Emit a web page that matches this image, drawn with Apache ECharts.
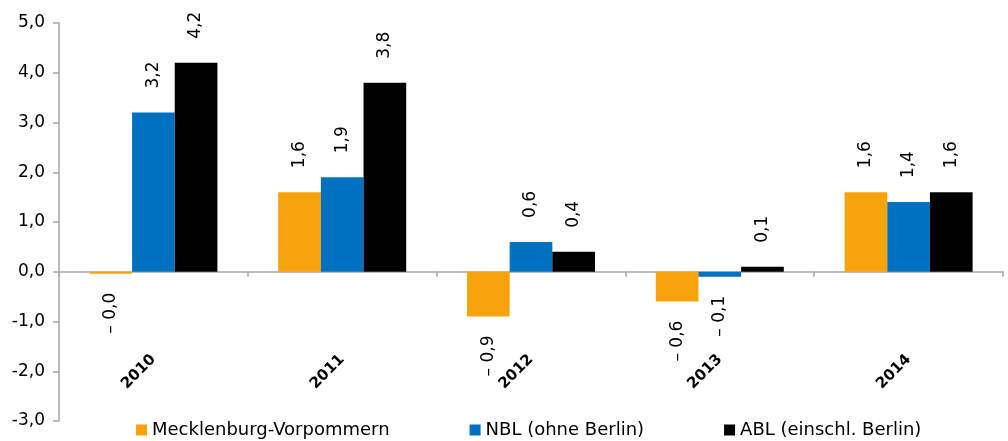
<!DOCTYPE html>
<html>
<head>
<meta charset="utf-8">
<style>html,body{margin:0;padding:0;background:#fff}#c{width:1008px;height:441px}</style>
<script src="https://cdn.jsdelivr.net/npm/echarts@6/dist/echarts.min.js"></script>
</head>
<body>
<div id="c"></div>
<script>
var categories = ['2010', '2011', '2012', '2013', '2014'];
var seriesNames = ['Mecklenburg-Vorpommern', 'NBL (ohne Berlin)', 'ABL (einschl. Berlin)'];
var mvValues = [-0.04, 1.6, -0.9, -0.6, 1.6];
var nblValues = [3.2, 1.9, 0.6, -0.1, 1.4];
var ablValues = [4.2, 3.8, 0.4, 0.1, 1.6];
var colors = ['#F8A30C', '#0070C0', '#000000'];

var FONT = 'DejaVu Sans';
function fmtLabel(p) {
  var v = p.value;
  var s = Math.abs(v).toFixed(1).replace('.', ',');
  return v < 0 ? '\u2013 ' + s : s;
}
var posLabel = {show: true, position: 'top', distance: 24, rotate: 90, align: 'left', verticalAlign: 'middle'};
var negLabel = {show: true, position: 'bottom', distance: 19, rotate: 90, align: 'right', verticalAlign: 'middle'};
function toData(arr) {
  return arr.map(function (v) { return {value: v, label: v < 0 ? negLabel : posLabel}; });
}
function mkSeries(name, arr, color) {
  return {
    name: name, type: 'bar', data: toData(arr), barWidth: '22.6%', barGap: '0%',
    itemStyle: {color: color},
    label: {show: true, formatter: fmtLabel, color: '#000', fontFamily: FONT, fontSize: 17}
  };
}
var chart = echarts.init(document.getElementById('c'), null, {renderer: 'canvas'});
chart.setOption({
  animation: false,
  backgroundColor: '#fff',
  textStyle: {fontFamily: FONT},
  grid: {left: 59, right: 5, top: 23, bottom: 20, containLabel: false, outerBoundsMode: 'none'},
  legend: {
    data: seriesNames, left: 131, top: 416, icon: 'rect', itemWidth: 11, itemHeight: 11, itemGap: 80,
    textStyle: {fontFamily: FONT, fontSize: 18, color: '#000', padding: [0, 0, 0, 0]}
  },
  xAxis: {
    type: 'category', data: categories,
    axisLine: {onZero: true, lineStyle: {color: '#A6A6A6', width: 1.5}},
    axisTick: {show: true, length: 5, lineStyle: {color: '#A6A6A6', width: 1.5}},
    axisLabel: {rotate: 45, margin: -64, fontWeight: 'bold', fontSize: 15, color: '#000', fontFamily: FONT}
  },
  yAxis: {
    type: 'value', min: -3, max: 5, interval: 1,
    axisLine: {show: true, lineStyle: {color: '#A6A6A6', width: 1.5}},
    axisTick: {show: true, length: 6, lineStyle: {color: '#A6A6A6', width: 1.5}},
    splitLine: {show: false},
    axisLabel: {margin: 14, fontSize: 17, color: '#000', fontFamily: FONT,
      formatter: function (v) { return v.toFixed(1).replace('.', ','); }}
  },
  series: [
    mkSeries(seriesNames[0], mvValues, colors[0]),
    mkSeries(seriesNames[1], nblValues, colors[1]),
    mkSeries(seriesNames[2], ablValues, colors[2])
  ]
});
</script>
</body>
</html>
